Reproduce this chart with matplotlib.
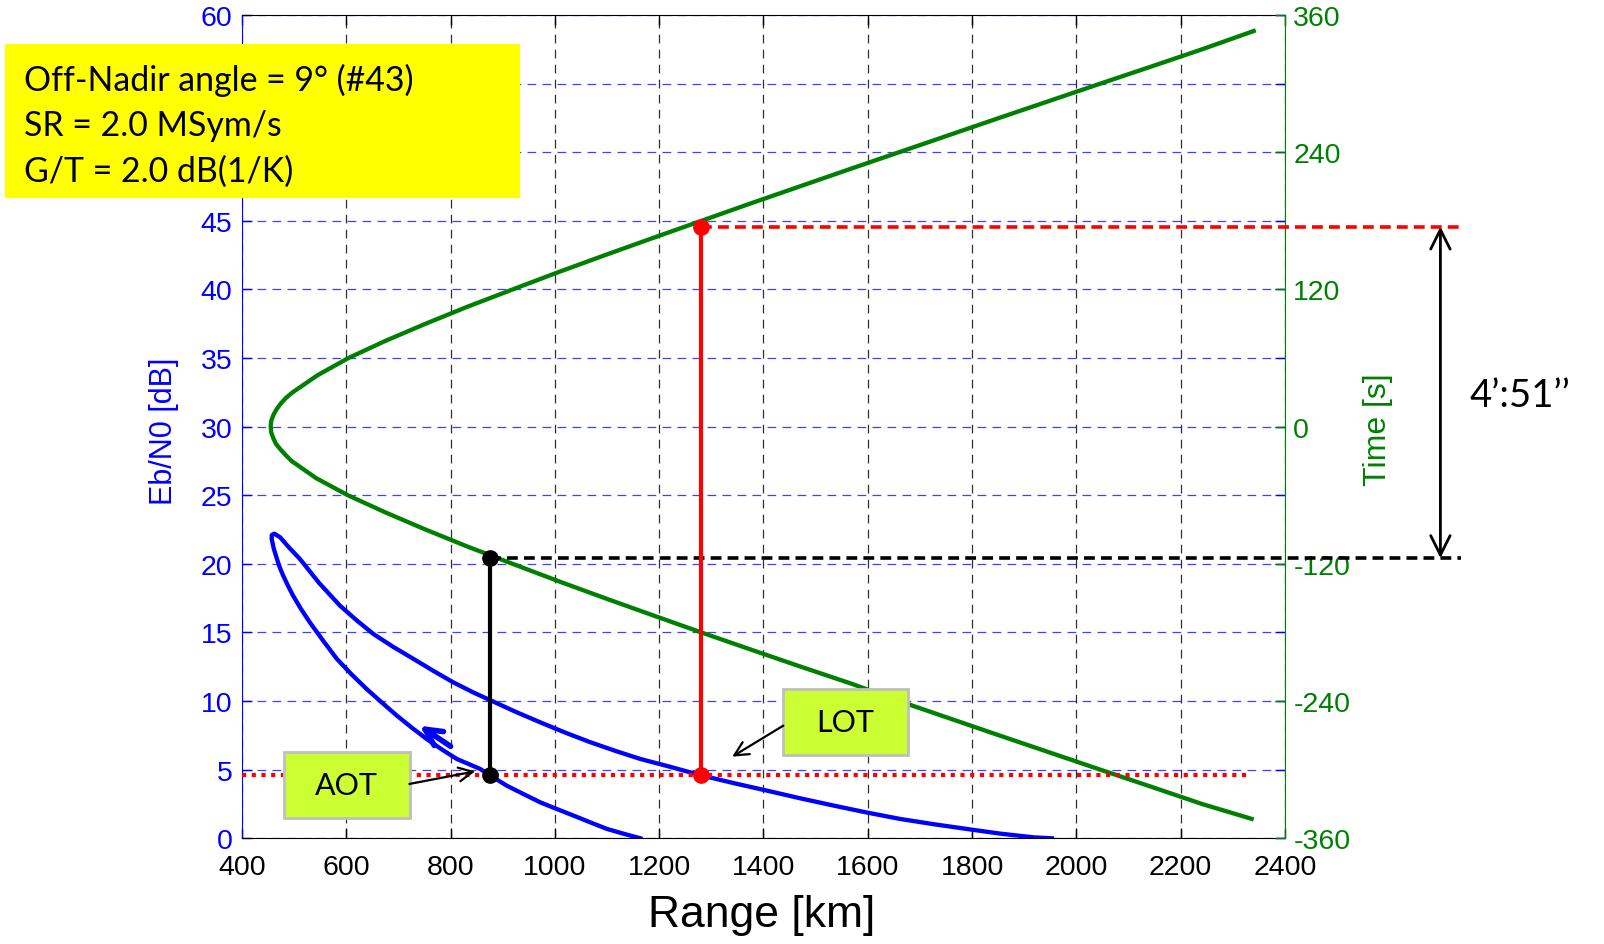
import matplotlib
matplotlib.use('Agg')
import matplotlib.pyplot as plt
from matplotlib.patches import Rectangle

plt.rcParams['font.family'] = ['Liberation Sans', 'DejaVu Sans']
plt.rcParams['axes.unicode_minus'] = False
BOX_FONT = ['Lato', 'DejaVu Sans']

# ---------------- data ----------------
x_ticks = [400, 600, 800, 1000, 1200, 1400, 1600, 1800, 2000, 2200, 2400]
eb_ticks = [0, 5, 10, 15, 20, 25, 30, 35, 40, 45, 50, 55, 60]
time_ticks = [-360, -240, -120, 0, 120, 240, 360]

# Eb/N0 versus range (ordered in time: rising branch then setting branch)
blue_range = [1164, 1132, 1100, 1068, 1036, 1004, 972, 940, 908, 875, 857, 812, 783, 754,
              725, 697, 668, 639, 610, 582, 556, 530, 513, 498, 488, 479, 472, 467, 461,
              457, 457, 462, 473, 490, 511, 548, 588, 620, 652, 690, 729,
              767, 805, 843, 882, 927, 972, 1020, 1068, 1116, 1164, 1222, 1279,
              1343, 1407, 1471, 1535, 1598, 1662, 1726, 1790, 1854, 1918, 1953]
blue_ebn0 = [0.0, 0.33, 0.68, 1.16, 1.65, 2.13, 2.62, 3.22, 3.83, 4.6, 5.05, 5.78, 6.48, 7.24,
             8.08, 8.94, 9.9, 10.88, 11.95, 13.07, 14.38, 15.74, 16.72, 17.68, 18.42, 19.14,
             19.78, 20.36, 21.1, 21.8, 22.1, 22.2, 21.94, 21.2, 20.36, 18.6, 16.95, 15.88,
             14.89, 13.95, 13.07, 12.2, 11.37, 10.64, 9.96, 9.18, 8.45, 7.7, 7.0, 6.37,
             5.78, 5.2, 4.6, 4.02, 3.47, 2.91, 2.38, 1.88, 1.41, 1.03, 0.68, 0.34, 0.07, 0.0]

# Time versus range
green_time = [-343, -330, -315, -300, -285, -270, -255, -240, -225, -210, -195, -180,
              -165, -150, -135, -120, -105, -90, -75, -60, -45, -30, -25, -20, -15, -10,
              -5, 0, 5, 10, 15, 20, 25, 30, 45, 60, 75, 90, 105, 120, 135, 150, 165, 180,
              195, 210, 225, 240, 255, 270, 285, 300, 315, 330, 346]
green_range = [2336, 2241, 2144, 2046, 1949, 1852, 1756, 1660, 1570, 1472, 1376, 1281,
               1188, 1096, 1006, 919, 833, 752, 675, 603, 542, 495, 484, 474, 465, 460,
               456, 455, 456, 460, 466, 474, 484, 497, 545, 604, 675, 752, 833, 919, 1006,
               1096, 1188, 1281, 1374, 1469, 1564, 1660, 1756, 1852, 1949, 2046, 2144,
               2241, 2340]

threshold_ebn0 = 4.6
threshold_end = 2330
aot_range, aot_time = 875, -115
lot_range, lot_time = 1280, 175
marker_line_end = 2737
duration_arrow_range = 2698

info_lines = ["Off-Nadir angle = 9\u00b0 (#43)", "SR = 2.0 MSym/s", "G/T = 2.0 dB(1/K)"]
duration_text = "4\u2019:51\u2019\u2019"

# ---------------- figure ----------------
W, H = 1604, 945
fig = plt.figure(figsize=(W / 100, H / 100), dpi=100)
ax = fig.add_axes([242 / W, 1 - 839.3 / H, (1285 - 242) / W, (839.3 - 16) / H])
ax2 = ax.twinx()
ax2.patch.set_visible(False)

BLUE = '#0000FF'
GREEN = '#008000'

ax.set_xlim(400, 2400)
ax.set_ylim(0, 60)
ax2.set_ylim(-360, 360)
ax.set_xticks(x_ticks)
ax.set_yticks(eb_ticks)
ax2.set_yticks(time_ticks)

ax.xaxis.grid(True, color='#303030', linestyle=(0, (7, 5)), lw=0.9)
ax.yaxis.grid(True, color=BLUE, linestyle=(0, (7, 5)), lw=0.9, alpha=0.75)
ax.set_axisbelow(True)

ax.tick_params(axis='x', direction='in', length=7, width=1, colors='black',
               labelsize=20.5, pad=11, top=True)
ax.tick_params(axis='y', direction='in', length=7, width=1, colors=BLUE,
               labelsize=20.5, pad=7, right=True, labelright=False)
ax2.tick_params(axis='y', direction='in', length=7, width=1, colors=GREEN,
                labelsize=20.5, pad=6)

for s in ['top', 'bottom']:
    ax.spines[s].set_color('black')
    ax2.spines[s].set_visible(False)
ax.spines['left'].set_color(BLUE)
ax.spines['right'].set_visible(False)
ax2.spines['left'].set_visible(False)
ax2.spines['right'].set_color(GREEN)

# curves
ax.plot(blue_range, blue_ebn0, color=BLUE, lw=3.1, solid_joinstyle='round')
ax2.plot(green_range, green_time, color=GREEN, lw=3.1, solid_joinstyle='round')


def time_to_eb(t):
    disp = ax2.transData.transform((0, t))
    return ax.transData.inverted().transform(disp)[1]


T = ax.transData
# threshold dotted red line
ax2.plot([400, threshold_end], [threshold_ebn0, threshold_ebn0], transform=T,
         color='red', lw=3, linestyle=(0, (1, 1.33)), dash_capstyle='butt', zorder=3)

aot_top = time_to_eb(aot_time)
lot_top = time_to_eb(lot_time)

# black AOT lines
ax2.plot([aot_range, aot_range], [threshold_ebn0, aot_top], transform=T,
         color='black', lw=3, zorder=4)
ax2.plot([aot_range, marker_line_end], [aot_top, aot_top], transform=T,
         color='black', lw=2.6, linestyle=(0, (3, 1.7)), clip_on=False, zorder=4)
# red LOT lines
ax2.plot([lot_range, lot_range], [threshold_ebn0, lot_top], transform=T,
         color='red', lw=3, zorder=4)
ax2.plot([lot_range, marker_line_end], [lot_top, lot_top], transform=T,
         color='red', lw=2.6, linestyle=(0, (3, 1.7)), clip_on=False, zorder=4)
# points
ax2.plot([aot_range, aot_range], [threshold_ebn0, aot_top], 'o', transform=T,
         color='black', ms=11, zorder=5)
ax2.plot([lot_range, lot_range], [threshold_ebn0, lot_top], 'o', transform=T,
         color='red', ms=11, zorder=5)

# duration arrow
ax2.annotate('', xy=(duration_arrow_range, lot_top), xytext=(duration_arrow_range, aot_top),
             xycoords=T, textcoords=T, annotation_clip=False,
             arrowprops=dict(arrowstyle='<->', color='black', lw=2, mutation_scale=35,
                             shrinkA=0, shrinkB=0))
fig.text(1470 / W, 1 - 396 / H, duration_text, fontsize=27.5, family=BOX_FONT,
         ha='left', va='center', color='black')

# direction arrow on the blue curve
ax2.annotate('', xy=(741, 8.2), xytext=(800, 6.7), xycoords=T, textcoords=T,
             arrowprops=dict(arrowstyle='->', color=BLUE, lw=4, mutation_scale=30,
                             shrinkA=0, shrinkB=0), zorder=6)

# AOT / LOT boxes
box_fc = '#CCFF33'
box_ec = '#BFBFBF'
ax2.add_patch(Rectangle((480.6, 1.5), 241.2, 4.77, transform=T, facecolor=box_fc,
                        edgecolor=box_ec, lw=2, zorder=7))
ax2.text(600, 3.85, 'AOT', transform=T, fontsize=22, family=BOX_FONT,
         ha='center', va='center', zorder=8)
ax2.annotate('', xy=(847, 4.88), xytext=(721, 3.96), xycoords=T, textcoords=T,
             arrowprops=dict(arrowstyle='->', color='black', lw=1.6, mutation_scale=25,
                             shrinkA=0, shrinkB=0), zorder=8)

ax2.add_patch(Rectangle((1436.6, 6.1), 239.9, 4.8, transform=T, facecolor=box_fc,
                        edgecolor=box_ec, lw=2, zorder=7))
ax2.text(1557, 8.45, 'LOT', transform=T, fontsize=22, family=BOX_FONT,
         ha='center', va='center', zorder=8)
ax2.annotate('', xy=(1340, 5.95), xytext=(1438, 8.21), xycoords=T, textcoords=T,
             arrowprops=dict(arrowstyle='->', color='black', lw=1.6, mutation_scale=25,
                             shrinkA=0, shrinkB=0), zorder=8)

# axis labels
fig.text(164 / W, 1 - 431 / H, 'Eb/N0 [dB]', rotation=90, ha='center', va='center',
         color=BLUE, fontsize=22)
fig.text(1378 / W, 1 - 430 / H, 'Time [s]', rotation=90, ha='center', va='center',
         color=GREEN, fontsize=23)
fig.text(762 / W, 1 - 916 / H, 'Range [km]', ha='center', va='center',
         color='black', fontsize=32)

# info box (on top of the axes)
fig.add_artist(Rectangle((5 / W, 1 - 199 / H), 515 / W, 154 / H, transform=fig.transFigure,
                         facecolor='#FFFF00', edgecolor='none', zorder=10))
for i, line in enumerate(info_lines):
    fig.text(24 / W, 1 - (91 + 45.5 * i) / H, line, fontsize=24.4, family=BOX_FONT,
             ha='left', va='baseline', color='black', zorder=11)

ax.set_xlim(400, 2400)
ax.set_ylim(0, 60)
ax2.set_ylim(-360, 360)

fig.savefig('out.png', dpi=100)
